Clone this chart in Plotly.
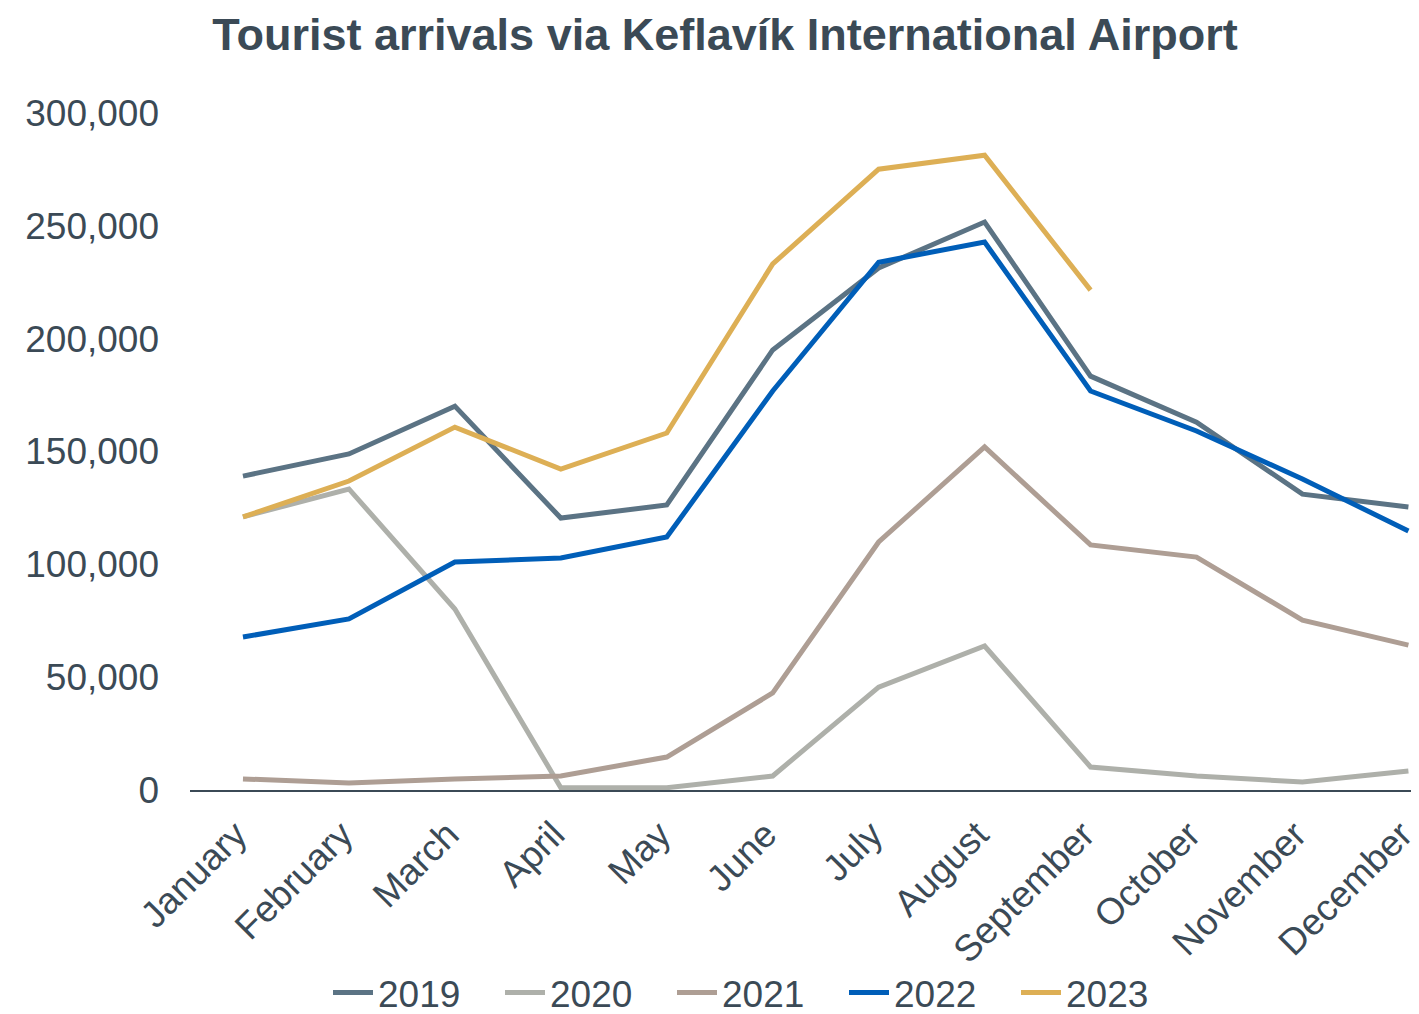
import plotly.graph_objects as go

months = ["January", "February", "March", "April", "May", "June", "July",
          "August", "September", "October", "November", "December"]

y2019 = [139100, 148900, 170100, 120500, 126300, 195000, 231300, 251700, 183400, 163000, 131100, 125400]
y2020 = [121000, 133400, 80200, 1000, 1000, 6200, 45600, 63800, 10200, 6200, 3500, 8400]
y2021 = [4900, 3100, 4900, 6200, 14600, 43000, 109900, 152000, 108600, 103200, 75300, 64200]
y2022 = [67800, 75800, 101000, 102800, 112100, 176800, 233900, 242800, 176800, 159100, 137800, 114800]
y2023 = [121000, 136900, 160800, 142200, 158200, 233100, 275100, 281300, 221500]

series = [
    ("2019", y2019, "#5B7384"),
    ("2020", y2020, "#AEB0AA"),
    ("2021", y2021, "#AE9E94"),
    ("2022", y2022, "#005EB8"),
    ("2023", y2023, "#DDAF55"),
]

txt = "#3B4A56"
font = "Liberation Sans, Arial, sans-serif"

W, H = 1411, 1006  # page body has an 8px margin

fig = go.Figure()
for name, vals, col in series:
    fig.add_trace(go.Scatter(
        x=months[:len(vals)], y=vals, name=name, mode="lines",
        line=dict(color=col, width=5),
    ))

fig.update_layout(
    width=W, height=H,
    paper_bgcolor="white", plot_bgcolor="white",
    margin=dict(l=182, r=0, t=105, b=H - 105 - 677, autoexpand=False),
    font=dict(family=font, color=txt, size=37),
    title=dict(text="<b>Tourist arrivals via Keflavík International Airport</b>",
               x=717 / W, xref="container", y=1 - 26 / H, yref="container",
               xanchor="center", yanchor="middle",
               font=dict(size=45, color=txt, family=font)),
    showlegend=True,
    legend=dict(orientation="h", xref="paper", yref="paper",
                x=(758 - 190) / 1229, y=(790 - 993) / 677,
                xanchor="center", yanchor="middle",
                font=dict(size=37, color=txt), itemwidth=40, entrywidth=117,
                traceorder="normal"),
)
fig.update_xaxes(
    type="category", categoryorder="array", categoryarray=months,
    range=[-0.5, 11.1], showline=True, linecolor=txt, linewidth=2,
    showgrid=False, zeroline=False, ticks="", tickangle=-45, automargin=False,
    tickfont=dict(size=37, color=txt), ticklabelstandoff=6, ticklabelshift=-7,
)
fig.update_yaxes(
    range=[0, 300000], tickvals=[0, 50000, 100000, 150000, 200000, 250000, 300000],
    tickformat=",d", showgrid=False, zeroline=False, showline=False, automargin=False,
    ticks="", tickfont=dict(size=37, color=txt), ticklabelstandoff=30,
)

fig.write_html("out.html")
